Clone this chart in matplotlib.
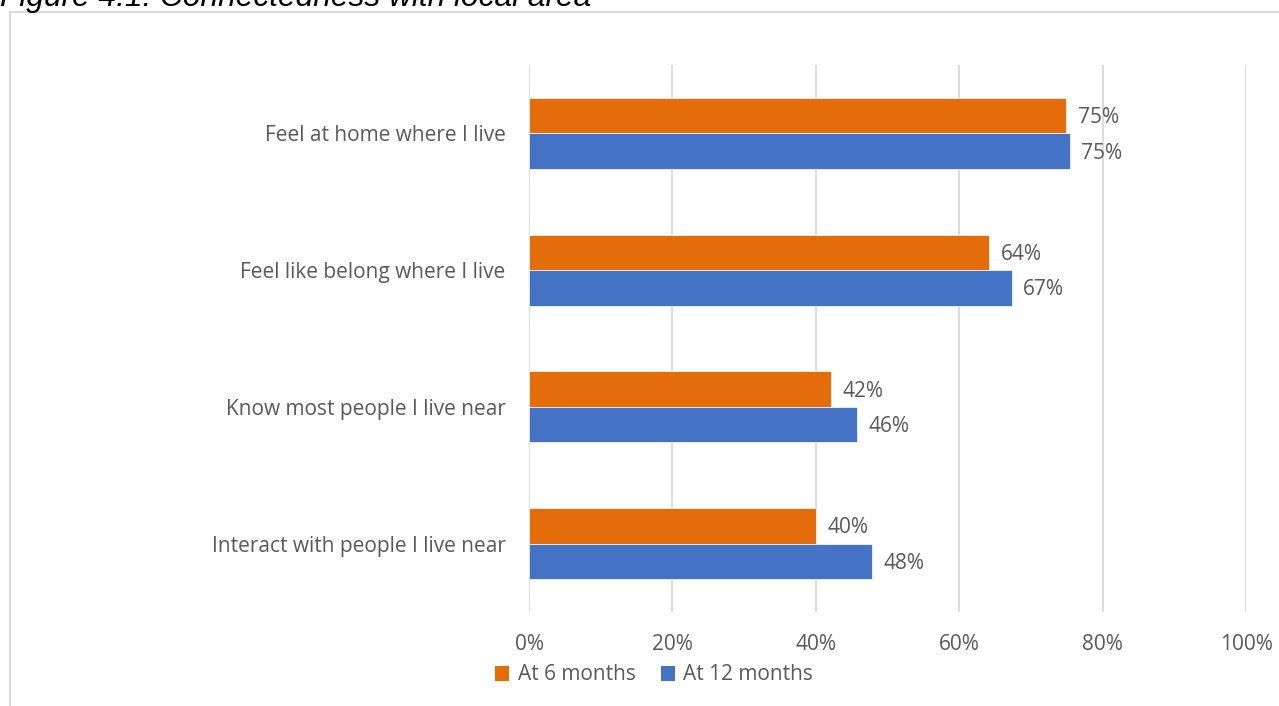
import matplotlib
matplotlib.use("Agg")
import matplotlib.pyplot as plt
from matplotlib.patches import Rectangle, Patch

categories = [
    "Feel at home where I live",
    "Feel like belong where I live",
    "Know most people I live near",
    "Interact with people I live near",
]
at_6_months = [74.9, 64.2, 42.1, 40.0]
at_12_months = [75.4, 67.3, 45.7, 47.9]
x_ticks = [0, 20, 40, 60, 80, 100]
x_tick_labels = ["0%", "20%", "40%", "60%", "80%", "100%"]
series_names = ["At 6 months", "At 12 months"]

ORANGE = "#E46C0A"
BLUE = "#4472C4"
TEXT = "#595959"
GRID = "#D9D9D9"
FONT = "Open Sans"
FS = 15

W, H = 1279, 706
fig = plt.figure(figsize=(W / 100, H / 100), dpi=100)

# outer chart frame (extends past the right and bottom edges)
fig.patches.append(Rectangle((9.5 / W, -0.05), 1.2, (706 - 12) / H + 0.05,
                             transform=fig.transFigure, fill=False,
                             edgecolor=GRID, linewidth=1.5))

# figure caption, partially clipped by the top edge
fig.text(0.0, 1 - 6 / H, "Figure 4.1: Connectedness with local area",
         ha="left", va="baseline", fontsize=22.8, style="italic",
         family="Liberation Sans", color="black")

ax = fig.add_axes([529 / W, (H - 612) / H, (1246 - 529) / W, (612 - 65) / H])

y = list(range(len(categories)))
h = 0.26
y6 = [v - h / 2 for v in y]
y12 = [v + h / 2 for v in y]
b6 = ax.barh(y6, at_6_months, height=h, color=ORANGE, edgecolor="white", linewidth=0.5)
b12 = ax.barh(y12, at_12_months, height=h, color=BLUE, edgecolor="white", linewidth=0.5)

for bars, vals in ((b6, at_6_months), (b12, at_12_months)):
    for bar, v in zip(bars, vals):
        ax.text(v + 1.6, bar.get_y() + bar.get_height() / 2 + 0.015, f"{v:.0f}%",
                ha="left", va="center", fontsize=FS, family=FONT, color=TEXT)

ax.set_xlim(0, 100)
ax.set_ylim(len(categories) - 0.5, -0.5)
ax.set_xticks(x_ticks)
ax.set_xticklabels(x_tick_labels, fontsize=FS, family=FONT, color=TEXT)
ax.set_yticks(y)
ax.set_yticklabels(categories, fontsize=FS, family=FONT, color=TEXT)
ax.tick_params(axis="both", length=0)
ax.tick_params(axis="x", pad=16)
ax.tick_params(axis="y", pad=17)
ax.grid(axis="x", color=GRID, linewidth=1.3)
ax.set_axisbelow(True)
for s in ax.spines.values():
    s.set_visible(False)

handles = [Patch(facecolor=ORANGE), Patch(facecolor=BLUE)]
fig.legend(handles, series_names, loc="center", bbox_to_anchor=(654 / W, 1 - 675 / H),
           ncol=2, frameon=False, prop={"family": FONT, "size": FS},
           handlelength=0.7, handleheight=0.7, handletextpad=0.4, columnspacing=1.2,
           labelcolor=TEXT)

fig.savefig("out.png", dpi=100)
